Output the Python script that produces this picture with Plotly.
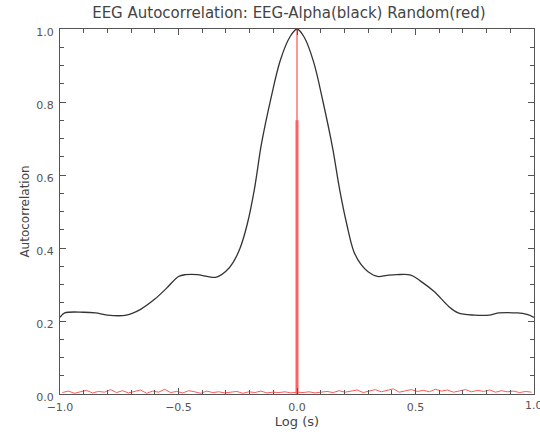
import numpy as np
import plotly.graph_objects as go

# Black curve: EEG-Alpha autocorrelation (lag in log seconds, value)
alpha_lag = [-1.0, -0.98, -0.9, -0.85, -0.8, -0.72, -0.66, -0.6, -0.55, -0.5, -0.47, -0.42,
             -0.38, -0.34, -0.3, -0.27, -0.24, -0.21, -0.18, -0.15, -0.11, -0.07, -0.03, 0.0,
             0.03, 0.07, 0.11, 0.15, 0.18, 0.21, 0.24, 0.27, 0.3, 0.34, 0.38, 0.42, 0.48,
             0.52, 0.58, 0.64, 0.68, 0.75, 0.81, 0.85, 0.93, 0.97, 1.0]
alpha_val = [0.21, 0.222, 0.224, 0.222, 0.216, 0.216, 0.232, 0.26, 0.29, 0.322, 0.327, 0.327,
             0.322, 0.32, 0.336, 0.36, 0.40, 0.465, 0.56, 0.685, 0.81, 0.915, 0.978, 1.0,
             0.978, 0.91, 0.80, 0.675, 0.56, 0.465, 0.39, 0.355, 0.335, 0.322, 0.325, 0.327, 0.326,
             0.31, 0.28, 0.24, 0.222, 0.216, 0.216, 0.222, 0.222, 0.218, 0.21]

# Red curve: random-signal autocorrelation (noise near zero, spike at lag 0)
random_val = [0.004, 0.008, 0.002, 0.006, 0.010, 0.003, 0.007, 0.005, 0.012, 0.004,
              0.009, 0.003, 0.006, 0.011, 0.002, 0.008, 0.005, 0.013, 0.004, 0.007,
              0.003, 0.009, 0.006, 0.002, 0.008, 0.004, 0.006, 0.003, 0.005, 0.007,
              0.002, 0.006, 0.004, 0.008, 0.003, 0.005, 0.004, 0.006, 0.003, 0.005,
              0.004, 0.006, 0.003, 0.005, 0.007, 0.004, 0.009, 0.005, 0.008, 0.011,
              0.004, 0.007, 0.012, 0.006, 0.010, 0.014, 0.005, 0.009, 0.012, 0.007,
              0.010, 0.006, 0.013, 0.008, 0.011, 0.005, 0.009, 0.012, 0.006, 0.010,
              0.007, 0.011, 0.005, 0.009, 0.006, 0.008, 0.004, 0.007, 0.005]
random_lag = np.linspace(-0.99, 0.99, len(random_val))
spike_top = [1.0, 0.75]

x_ticks = [-1.0, -0.5, 0.0, 0.5, 1.0]
y_ticks = [0.0, 0.2, 0.4, 0.6, 0.8, 1.0]

fig = go.Figure()
fig.add_trace(go.Scatter(x=list(random_lag), y=random_val, mode="lines",
                         line=dict(color="#ff3030", width=0.8), hoverinfo="skip"))
fig.add_trace(go.Scatter(x=[0, 0], y=[0, spike_top[0]], mode="lines",
                         line=dict(color="#ff7070", width=1.5)))
fig.add_trace(go.Scatter(x=[0, 0], y=[0, spike_top[1]], mode="lines",
                         line=dict(color="#ff6060", width=3)))
fig.add_trace(go.Scatter(x=alpha_lag, y=alpha_val, mode="lines", line_shape="spline",
                         line=dict(color="#333333", width=1.3)))

axis_common = dict(showgrid=False, zeroline=False, showline=True, linecolor="#555555",
                   linewidth=1, mirror="ticks", ticks="inside", ticklen=6, automargin=False,
                   tickcolor="#555555", tickfont=dict(family="DejaVu Sans", size=11, color="#555555"))

fig.update_xaxes(range=[-1, 1], tickvals=x_ticks, ticktext=[f"{v:.1f}".replace("-", "\u2212") for v in x_ticks],
                 minor=dict(ticks="inside", dtick=0.1, ticklen=4, tickcolor="#555555"),
                 ticklabelstandoff=3,
                 title=dict(text="Log (s)", font=dict(family="DejaVu Sans", size=13, color="#444444"), standoff=1),
                 **axis_common)
fig.update_yaxes(range=[0, 1], tickvals=y_ticks, ticktext=[f"{v:.1f}" for v in y_ticks],
                 minor=dict(ticks="inside", dtick=0.05, ticklen=4, tickcolor="#555555"),
                 ticklabelshift=3, ticklabelstandoff=3,
                 title=dict(text="Autocorrelation", font=dict(family="DejaVu Sans", size=12, color="#444444"), standoff=4),
                 **axis_common)

# right-most x tick label, which the reference shows cut by the image edge
fig.add_annotation(x=x_ticks[-1], y=0, xref="x", yref="y", text="1.0", showarrow=False,
                   yanchor="top", yshift=-3, font=dict(family="DejaVu Sans", size=11, color="#555555"))

fig.update_layout(
    width=540, height=432,
    margin=dict(l=60, r=6, t=29, b=38),
    paper_bgcolor="white", plot_bgcolor="white",
    showlegend=False,
    title=dict(text="EEG Autocorrelation: EEG-Alpha(black) Random(red)",
               font=dict(family="DejaVu Sans", size=15, color="#444444"),
               x=0.535, xanchor="center", y=0.97, yanchor="middle"),
)

fig.write_html("out.html", config={"displayModeBar": False},
               post_script="document.body.style.margin='0';")
